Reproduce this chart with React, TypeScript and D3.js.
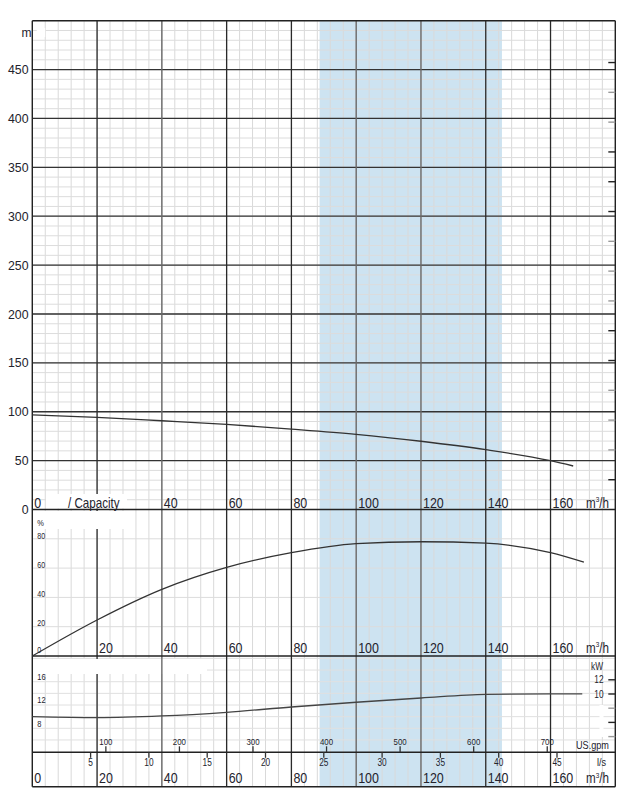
import React from "react";
import * as d3 from "d3";

// ---- data ----
const HEAD_Q = [0, 20, 40, 60, 80, 100, 120, 140, 160, 167];
const HEAD_H = [96.7, 94.3, 90.8, 87.1, 82.3, 76.9, 69.8, 61.2, 49.9, 44.5];
const EFF_Q = [0, 20, 40, 60, 80, 100, 120, 140, 160, 170.3];
const EFF_V = [0, 24.6, 45.5, 60.5, 70.5, 76.7, 78, 77, 70.5, 64];
const POW_Q = [0, 20, 40, 60, 80, 100, 120, 140, 160, 169.8];
const POW_V = [10.0, 9.83, 10.12, 10.75, 11.66, 12.47, 13.2, 13.84, 13.9, 13.9];

const Q_MAJOR = [20, 40, 60, 80, 100, 120, 140, 160];
const Q_MAJOR_GREY = [40, 100, 120];
const HEAD_TICKS = [0, 50, 100, 150, 200, 250, 300, 350, 400, 450];
const TOP_Q_LABELS = [40, 60, 80, 100, 120, 140, 160];
const EFF_Q_LABELS = [20, 40, 60, 80, 100, 120, 140, 160];
const BOTTOM_Q_LABELS = [0, 20, 40, 60, 80, 100, 120, 140, 160];
const EFF_TICKS = [0, 20, 40, 60, 80];
const POW_LEFT_TICKS = [8, 12, 16];
const POW_GRID = [6, 8, 10, 12, 14, 16, 18, 20];
const KW_TICKS = [12, 10, 8, 6, 4];
const KW_LABELS = [12, 10];
const KW_GREY = [8, 4];
const FT_TICKS = [100, 200, 300, 400, 500, 600, 700, 800, 900, 1000, 1100, 1200, 1300, 1400, 1500];
const FT_GREY = [200, 300, 400, 700, 800, 900, 1300, 1400];
const GPM_TICKS = [100, 200, 300, 400, 500, 600, 700];
const LS_TICKS = [5, 10, 15, 20, 25, 30, 35, 40, 45];
const BAND = [88.7, 145];

// ---- geometry ----
const L = 32.3, R = 615.3;
const TOP = 20.7, Y_HEAD0 = 509.5, Y_EFF0 = 656, Y_POW0 = 752.3, BOTTOM = 786.7;

const x = d3.scaleLinear().domain([0, 180]).range([L, R]);
const yH = d3.scaleLinear().domain([0, 500]).range([Y_HEAD0, TOP]);
const yE = d3.scaleLinear().domain([0, 100]).range([Y_EFF0, Y_HEAD0]);
const yP = d3.scaleLinear().domain([4, 20]).range([751.6, 658.4]);
const yKW = d3.scaleLinear().domain([4, 12]).range([736.6, 679.8]);

const FONT = "'Liberation Sans', Arial, Helvetica, sans-serif";
const INK = "#23232d";

function T(props: { x: number; y: number; size: number; anchor?: string; narrow?: number; fill?: string; children: any }) {
  const sx = props.narrow ?? 0.83;
  return (
    <text
      transform={`translate(${props.x},${props.y}) scale(${sx},1)`}
      fontSize={props.size}
      fontFamily={FONT}
      textAnchor={props.anchor ?? "start"}
      fill={props.fill ?? INK}
    >
      {props.children}
    </text>
  );
}

function M3h(props: { x: number; y: number; size: number }) {
  return (
    <text
      transform={`translate(${props.x},${props.y}) scale(0.83,1)`}
      fontSize={props.size}
      fontFamily={FONT}
      fill={INK}
    >
      <tspan>m</tspan>
      <tspan dy={-props.size * 0.38} fontSize={props.size * 0.55}>3</tspan>
      <tspan dy={props.size * 0.38}>/h</tspan>
    </text>
  );
}

export default function App() {
  const minorQ = d3.range(0, 181, 4);
  const minorH = d3.range(0, 501, 10);

  const headLine = d3.line<number>().x((_, i) => x(HEAD_Q[i])).y((d) => yH(d)).curve(d3.curveMonotoneX);
  const effLine = d3.line<number>().x((_, i) => x(EFF_Q[i])).y((d) => yE(d)).curve(d3.curveMonotoneX);
  const powLine = d3.line<number>().x((_, i) => x(POW_Q[i])).y((d) => yP(d)).curve(d3.curveMonotoneX);

  const ftY = (ft: number) => yH(ft * 0.3048);

  return (
    <svg width={636} height={800} style={{ position: "absolute", left: 0, top: 0, background: "#fff" }}>
      <rect x={0} y={0} width={636} height={800} fill="#fff" />
      {/* blue band */}
      <rect x={x(BAND[0])} y={TOP} width={x(BAND[1]) - x(BAND[0])} height={BOTTOM - TOP} fill="#cde3f1" />

      {/* minor vertical grid */}
      {minorQ.map((q) => (
        <line key={"mv" + q} x1={x(q)} x2={x(q)} y1={TOP} y2={BOTTOM} stroke="#d9d9d9" strokeWidth={1} />
      ))}
      {/* minor horizontal grid head */}
      {minorH.map((h) => (
        <line key={"mh" + h} x1={L} x2={R} y1={yH(h)} y2={yH(h)} stroke="#dcdcdc" strokeWidth={1} />
      ))}
      {/* eff grid */}
      {EFF_TICKS.filter((v) => v > 0).map((v) => (
        <line key={"eg" + v} x1={L} x2={R} y1={yE(v)} y2={yE(v)} stroke="#dcdcdc" strokeWidth={1} />
      ))}
      {/* power grid */}
      {POW_GRID.map((v) => (
        <line key={"pg" + v} x1={L} x2={R} y1={yP(v)} y2={yP(v)} stroke="#e0e0e0" strokeWidth={1} />
      ))}

      {/* major horizontal head */}
      {HEAD_TICKS.filter((h) => h > 0).map((h) => (
        <line key={"Mh" + h} x1={L} x2={R} y1={yH(h)} y2={yH(h)} stroke="#333" strokeWidth={1.3} />
      ))}
      {/* major vertical dark */}
      {Q_MAJOR.filter((q) => !Q_MAJOR_GREY.includes(q)).map((q) => (
        <line key={"Mv" + q} x1={x(q)} x2={x(q)} y1={TOP} y2={BOTTOM} stroke="#2a2a2a" strokeWidth={1.3} />
      ))}

      {/* erased label boxes */}
      <rect x={36.7} y={28} width={8.5} height={9} fill="#fff" />
      <rect x={46} y={494} width={81} height={14.5} fill="#fff" />
      <rect x={33} y={511} width={95} height={18} fill="#fff" />
      <rect x={33} y={659} width={174} height={15} fill="#fff" />
      <rect x={599.5} y={705} width={4} height={32} fill="#fff" />

      {/* major vertical grey */}
      {Q_MAJOR.filter((q) => Q_MAJOR_GREY.includes(q)).map((q) => (
        <line key={"Mg" + q} x1={x(q)} x2={x(q)} y1={TOP} y2={BOTTOM} stroke="#6a6a6a" strokeWidth={1.4} />
      ))}

      {/* panel borders */}
      {[TOP, Y_HEAD0, Y_EFF0, Y_POW0, BOTTOM].map((y, i) => (
        <line key={"pb" + i} x1={L} x2={R} y1={y} y2={y} stroke="#222" strokeWidth={1.4} />
      ))}
      <line x1={L} x2={L} y1={TOP} y2={BOTTOM} stroke="#222" strokeWidth={1.4} />
      <line x1={R} x2={R} y1={TOP} y2={BOTTOM} stroke="#222" strokeWidth={1.4} />

      {/* ft ticks */}
      {FT_TICKS.map((ft) => (
        <line key={"ft" + ft} x1={R - 7} x2={R} y1={ftY(ft)} y2={ftY(ft)} stroke={FT_GREY.includes(ft) ? "#9a9a9a" : "#222"} strokeWidth={1.4} />
      ))}

      {/* curves */}
      <path d={headLine(HEAD_H) || ""} fill="none" stroke="#333" strokeWidth={1.3} />
      <path d={effLine(EFF_V) || ""} fill="none" stroke="#333" strokeWidth={1.3} />
      <path d={powLine(POW_V) || ""} fill="none" stroke="#444" strokeWidth={1.3} />

      {/* head axis labels */}
      <T x={21.5} y={37} size={12} narrow={1}>m</T>
      {HEAD_TICKS.map((h) => (
        <T key={"hl" + h} x={28.5} y={yH(h) + 4.6} size={13} anchor="end" narrow={0.95}>{h}</T>
      ))}

      {/* top panel x labels */}
      <T x={x(0) + 2} y={507.7} size={15}>0</T>
      <T x={x(11)} y={507.7} size={14}>/ Capacity</T>
      {TOP_Q_LABELS.map((q) => (
        <T key={"tq" + q} x={x(q) + 2} y={507.7} size={15}>{q}</T>
      ))}
      <M3h x={586} y={507.7} size={14} />

      {/* efficiency axis */}
      <T x={37.3} y={526} size={9}>%</T>
      {EFF_TICKS.map((v) => (
        <T key={"el" + v} x={37.3} y={yE(v) - (v === 0 ? 3 : 0.3)} size={8.5}>{v}</T>
      ))}
      {EFF_Q_LABELS.map((q) => (
        <T key={"eq" + q} x={x(q) + 2} y={652.7} size={15}>{q}</T>
      ))}
      <M3h x={586} y={652.7} size={14} />

      {/* power axis left */}
      {POW_LEFT_TICKS.map((v) => (
        <T key={"pl" + v} x={37.3} y={yP(v) - 1.8} size={9}>{v}</T>
      ))}
      {/* kW right */}
      <T x={603} y={670} size={10} anchor="end">kW</T>
      {KW_LABELS.map((v) => (
        <T key={"kl" + v} x={603.5} y={yKW(v) + 3.5} size={10} anchor="end">{v}</T>
      ))}
      {KW_TICKS.map((v) => (
        <line key={"kt" + v} x1={R - 7} x2={R} y1={yKW(v)} y2={yKW(v)} stroke={KW_GREY.includes(v) ? "#9a9a9a" : "#222"} strokeWidth={1.4} />
      ))}

      {/* US gpm */}
      {GPM_TICKS.map((g) => (
        <g key={"g" + g}>
          <line x1={x(g * 0.227125)} x2={x(g * 0.227125)} y1={Y_POW0 - 6} y2={Y_POW0} stroke="#333" strokeWidth={1.3} />
          <T x={x(g * 0.227125)} y={745} size={9.5} anchor="middle">{g}</T>
        </g>
      ))}
      <T x={576} y={749} size={11}>US.gpm</T>

      {/* l/s */}
      {LS_TICKS.map((v) => (
        <g key={"ls" + v}>
          <line x1={x(v * 3.6)} x2={x(v * 3.6)} y1={Y_POW0} y2={Y_POW0 + 5.5} stroke="#333" strokeWidth={1.3} />
          <T x={x(v * 3.6)} y={766} size={10} anchor="middle">{v}</T>
        </g>
      ))}
      <T x={597} y={766} size={11}>l/s</T>

      {/* bottom m3/h */}
      {BOTTOM_Q_LABELS.map((q) => (
        <T key={"bq" + q} x={x(q) + 2} y={783.3} size={15}>{q}</T>
      ))}
      <M3h x={586} y={783.3} size={14} />
    </svg>
  );
}
